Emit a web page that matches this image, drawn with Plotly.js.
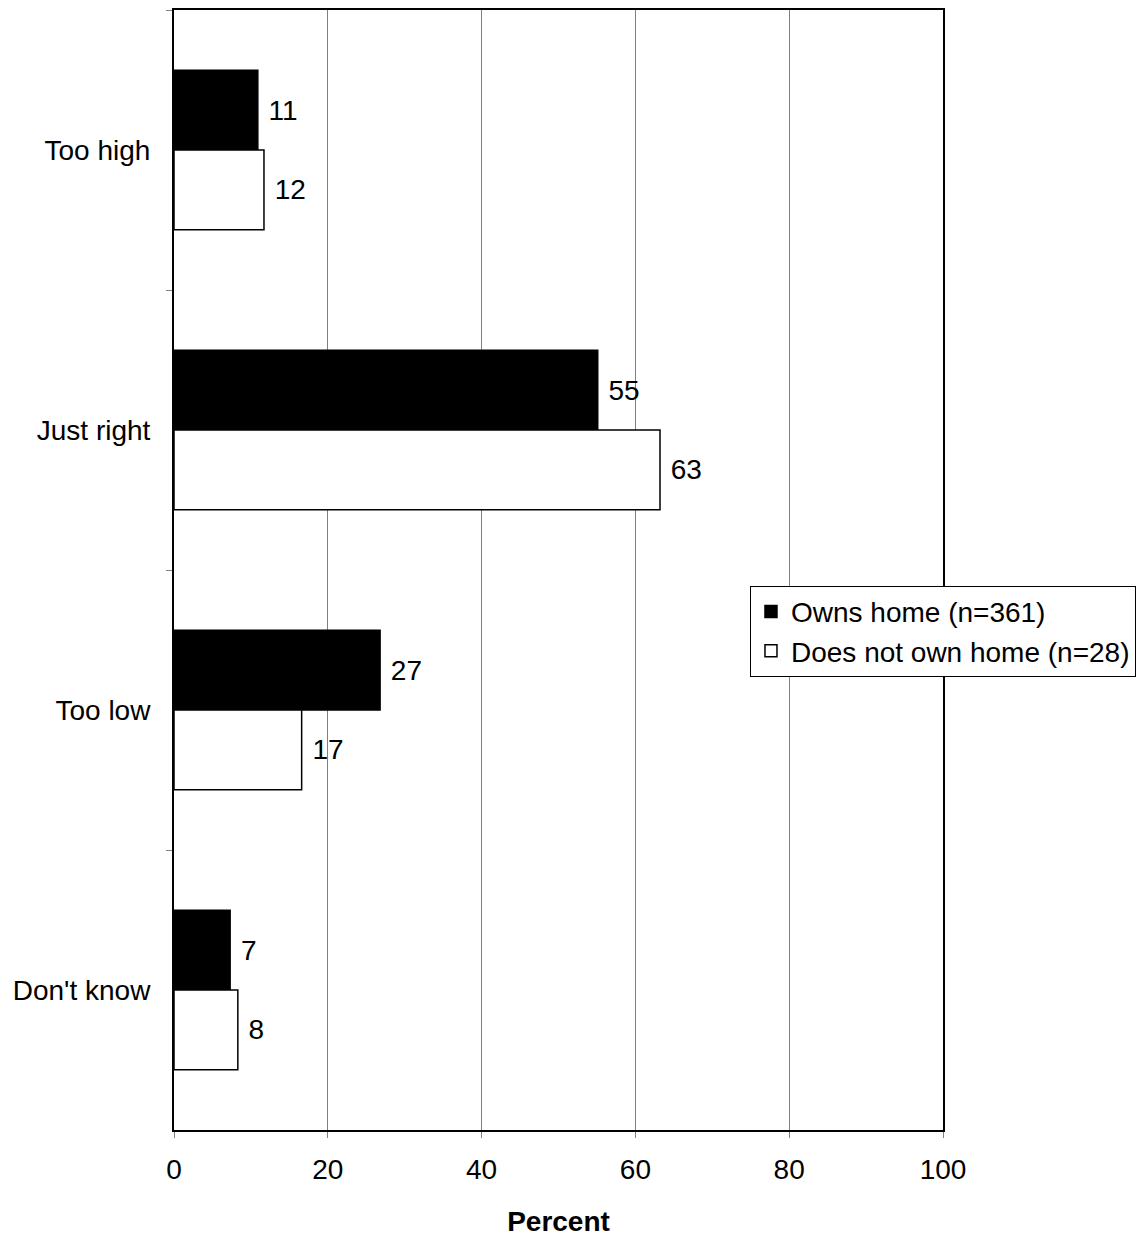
<!DOCTYPE html>
<html>
<head>
<meta charset="utf-8">
<script src="https://cdn.plot.ly/plotly-3.0.1.min.js"></script>
<style>html,body{margin:0;padding:0;background:#fff;}#chart{width:1142px;height:1237px;}</style>
</head>
<body>
<div id="chart"></div>
<script>
var categories = ["Too high", "Just right", "Too low", "Don't know"];
var ownsValues = [10.9, 55.1, 26.8, 7.3];
var ownsLabels = ["11", "55", "27", "7"];
var notOwnValues = [11.7, 63.2, 16.6, 8.3];
var notOwnLabels = ["12", "63", "17", "8"];
var xTicks = [0, 20, 40, 60, 80, 100];

var font = "Liberation Sans, Arial, sans-serif";
var fs = 28;

var traces = [
  {
    type: "bar", orientation: "h", name: "Owns home (n=361)",
    y: categories, x: ownsValues, text: ownsLabels.map(function(s){return " " + s;}),
    textposition: "outside", cliponaxis: false,
    textfont: {family: font, size: fs, color: "#000"},
    marker: {color: "#000", line: {color: "#000", width: 1.5}},
    hoverinfo: "none"
  },
  {
    type: "bar", orientation: "h", name: "Does not own home (n=28)",
    y: categories, x: notOwnValues, text: notOwnLabels.map(function(s){return " " + s;}),
    textposition: "outside", cliponaxis: false,
    textfont: {family: font, size: fs, color: "#000"},
    marker: {color: "#fff", line: {color: "#000", width: 1.5}},
    hoverinfo: "none"
  }
];

var layout = {
  width: 1142, height: 1237,
  margin: {l: 174, r: 199, t: 10, b: 107, pad: 0, autoexpand: false},
  paper_bgcolor: "#fff", plot_bgcolor: "#fff",
  barmode: "group", bargap: 0.43, bargroupgap: 0,
  font: {family: font, size: fs, color: "#000"},
  showlegend: true,
  legend: {
    x: 0.749, xanchor: "left", y: 0.486, yanchor: "top",
    bordercolor: "#000", borderwidth: 1, bgcolor: "#fff",
    font: {family: font, size: fs, color: "#000"},
    tracegroupgap: 0, itemwidth: 30
  },
  xaxis: {
    range: [0, 100], tickvals: xTicks, ticktext: xTicks.map(String),
    showgrid: true, gridcolor: "#808080", gridwidth: 1,
    zeroline: false, showline: true, linecolor: "#000", linewidth: 2, mirror: true,
    ticks: "outside", ticklen: 6, tickcolor: "#808080", tickwidth: 1,
    tickfont: {family: font, size: fs, color: "#000"},
    ticklabelstandoff: 7,
    title: {text: "<b>Percent</b>", font: {family: font, size: fs, color: "#000"}, standoff: 29},
    fixedrange: true
  },
  yaxis: {
    type: "category", categoryorder: "array", categoryarray: categories,
    autorange: "reversed",
    showgrid: false, zeroline: false,
    showline: true, linecolor: "#000", linewidth: 2, mirror: true,
    ticks: "outside", tickson: "boundaries", ticklen: 6, tickcolor: "#808080", tickwidth: 1,
    tickfont: {family: font, size: fs, color: "#000"},
    ticklabelstandoff: 16,
    fixedrange: true
  }
};

Plotly.newPlot("chart", traces, layout, {displayModeBar: false, staticPlot: true});
</script>
</body>
</html>
